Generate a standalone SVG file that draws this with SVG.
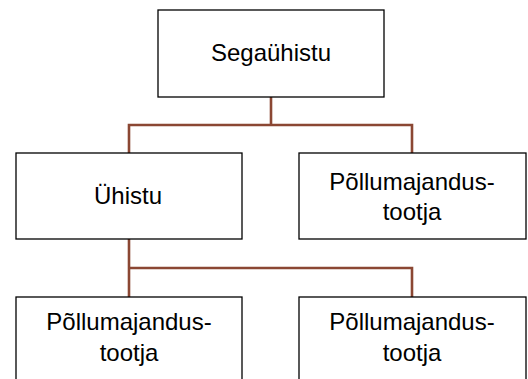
<svg xmlns="http://www.w3.org/2000/svg" width="528" height="379" viewBox="0 0 528 379">
<style>
.box{fill:#fff;stroke:#000;stroke-width:1.3}
.lbl{font-family:"Liberation Sans",Arial,sans-serif;font-size:24px;fill:#000;text-anchor:middle}
.conn{fill:none;stroke:#8b4733;stroke-width:2.6}
</style>
<rect width="528" height="379" fill="#fff"/>
<g id="connectors">
<path class="conn" d="M271 97 V125 M129 153 V125 H412 V153"/>
<path class="conn" d="M129 239 V297 M129 268 H412 V297"/>
</g>
<g id="segauhistu">
<rect class="box" x="158" y="10" width="226" height="87"/>
<text class="lbl" x="271" y="61">Segaühistu</text>
</g>
<g id="uhistu">
<rect class="box" x="16" y="153" width="226" height="86"/>
<text class="lbl" x="128" y="204">Ühistu</text>
</g>
<g id="tootja1">
<rect class="box" x="299" y="153" width="227" height="86"/>
<text class="lbl" x="412" y="190">Põllumajandus-</text>
<text class="lbl" x="412" y="220">tootja</text>
</g>
<g id="tootja2">
<rect class="box" x="16" y="297" width="226" height="90"/>
<text class="lbl" x="129" y="330">Põllumajandus-</text>
<text class="lbl" x="129" y="361">tootja</text>
</g>
<g id="tootja3">
<rect class="box" x="299" y="297" width="227" height="90"/>
<text class="lbl" x="412" y="330">Põllumajandus-</text>
<text class="lbl" x="412" y="361">tootja</text>
</g>
</svg>
